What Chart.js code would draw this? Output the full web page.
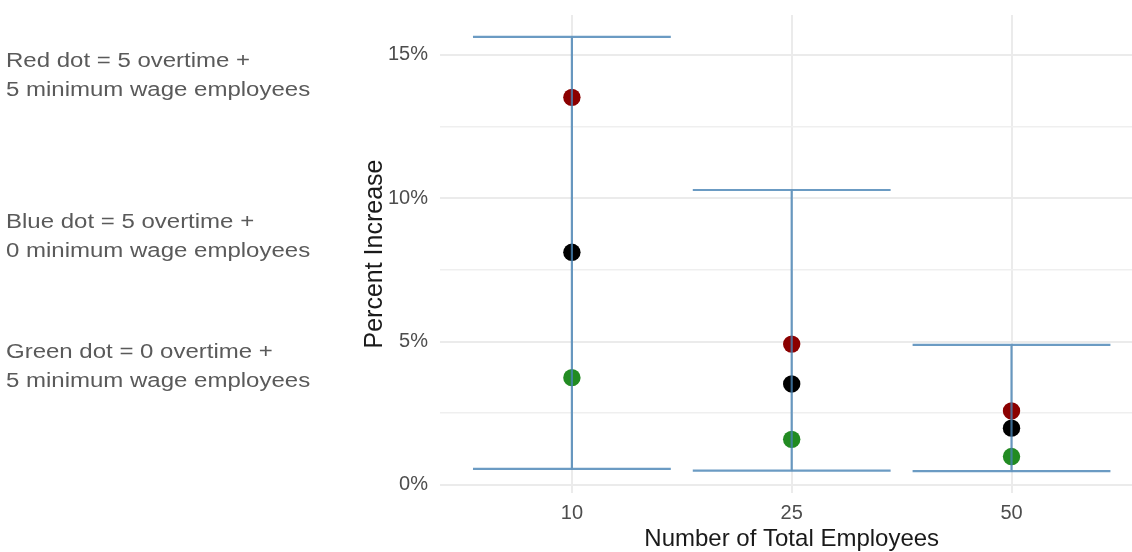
<!DOCTYPE html>
<html>
<head>
<meta charset="utf-8">
<script src="https://cdn.jsdelivr.net/npm/chart.js@4.4.1/dist/chart.umd.min.js"></script>
<style>
html, body { margin:0; padding:0; background:#ffffff; overflow:hidden; width:1132px; height:552px; }
#wrap { position:absolute; left:0; top:0; width:1160px; height:552px; }
.note { position:absolute; left:6px; font-family:"Liberation Sans", Arial, sans-serif; font-size:20px; line-height:1; color:#5a5a5a; white-space:nowrap; transform:scaleX(1.2); transform-origin:0 0; }
</style>
</head>
<body>
<div id="wrap"><canvas id="chart"></canvas></div>
<div class="note" style="top:50px">Red dot = 5 overtime +</div>
<div class="note" style="top:79px">5 minimum wage employees</div>
<div class="note" style="top:211px">Blue dot = 5 overtime +</div>
<div class="note" style="top:240px">0 minimum wage employees</div>
<div class="note" style="top:341px">Green dot = 0 overtime +</div>
<div class="note" style="top:370px">5 minimum wage employees</div>
<script>
// ---- data (percent) ----
const categories = ['10', '25', '50'];
const redDot   = [13.51, 4.91, 2.58];
const blackDot = [8.11, 3.52, 1.98];
const greenDot = [3.74, 1.59, 0.99];
const upperBound = [15.62, 10.28, 4.88];
const lowerBound = [0.56, 0.50, 0.48];
const yTickValues = [0, 2.5, 5, 7.5, 10, 12.5, 15];

const FONT = '"Liberation Sans", Arial, sans-serif';
Chart.defaults.font.family = FONT;

const capHalf = 0.45;
const errorPoints = [];
categories.forEach((c, i) => {
  errorPoints.push(
    {x: i - capHalf, y: upperBound[i]}, {x: i + capHalf, y: upperBound[i]}, {x: i, y: null},
    {x: i, y: upperBound[i]}, {x: i, y: lowerBound[i]}, {x: i, y: null},
    {x: i - capHalf, y: lowerBound[i]}, {x: i + capHalf, y: lowerBound[i]}, {x: i, y: null}
  );
});
const toPts = arr => arr.map((v, i) => ({x: i, y: v}));

const dotStyle = (color) => ({
  backgroundColor: color, borderColor: color, borderWidth: 0,
  pointRadius: 8.7, pointHoverRadius: 8.7, showLine: false
});

new Chart(document.getElementById('chart'), {
  type: 'scatter',
  data: {
    datasets: [
      { label: 'range', data: errorPoints, showLine: true, spanGaps: false,
        borderColor: 'rgba(70,130,180,0.8)', borderWidth: 2.2, pointRadius: 0, pointHoverRadius: 0,
        borderCapStyle: 'butt', fill: false },
      Object.assign({ label: 'green', data: toPts(greenDot) }, dotStyle('#228B22')),
      Object.assign({ label: 'black', data: toPts(blackDot) }, dotStyle('#000000')),
      Object.assign({ label: 'red', data: toPts(redDot) }, dotStyle('#8B0000'))
    ]
  },
  options: {
    responsive: true,
    maintainAspectRatio: false,
    animation: false,
    events: [],
    layout: { padding: { left: 356, top: 15, right: 16.6, bottom: 0 } },
    plugins: { legend: { display: false }, tooltip: { enabled: false } },
    scales: {
      x: {
        type: 'linear', min: -0.6, max: 2.6,
        afterBuildTicks: s => { s.ticks = categories.map((c, i) => ({ value: i })); },
        afterFit: s => { s.height = 59; s.paddingLeft = 0; s.paddingRight = 0; },
        ticks: {
          callback: v => categories[v] ?? '',
          color: '#4d4d4d', font: { size: 20 }, padding: 8, maxRotation: 0, autoSkip: false
        },
        grid: { color: '#ebebeb', lineWidth: 2, drawTicks: false },
        border: { display: false },
        title: { display: true, text: 'Number of Total Employees', color: '#1a1a1a',
                 font: { size: 24, lineHeight: 1 }, padding: { top: 0, bottom: 1 } }
      },
      y: {
        min: -0.28, max: 16.38,
        afterBuildTicks: s => { s.ticks = yTickValues.map(v => ({ value: v })); },
        afterFit: s => { s.width = 84; s.paddingTop = 0; s.paddingBottom = 0; },
        ticks: {
          callback: v => (v % 5 === 0 ? v + '%' : ''),
          color: '#4d4d4d', font: { size: 20 }, padding: 12, autoSkip: false
        },
        grid: {
          color: ctx => (ctx.tick && ctx.tick.value % 5 === 0 ? '#ebebeb' : '#efefef'),
          lineWidth: ctx => (ctx.tick && ctx.tick.value % 5 === 0 ? 2 : 1.6),
          drawTicks: false
        },
        border: { display: false },
        title: { display: true, text: 'Percent Increase', color: '#1a1a1a',
                 font: { size: 25, lineHeight: 1.2 }, padding: { top: 4, bottom: 0 } }
      }
    }
  }
});
</script>
</body>
</html>
